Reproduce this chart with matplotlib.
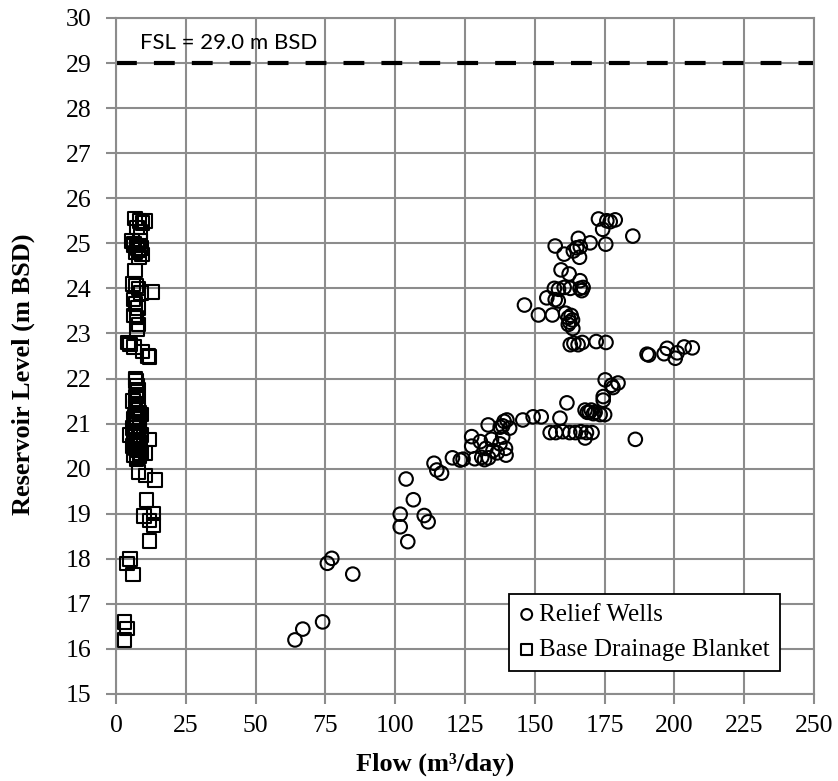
import matplotlib
matplotlib.use("Agg")
from matplotlib import pyplot as plt

# Relief wells: flow (m3/day) vs reservoir level (m BSD)
rw_flow = [64.1, 66.9, 74.0, 75.7, 77.3, 84.8,
           103.9, 106.5, 101.8, 101.8, 110.4, 111.8, 104.5,
           113.9, 114.9, 116.6, 120.5, 123.3, 124.3,
           127.4, 127.4, 128.5, 131.0, 132.0, 133.5, 130.5, 132.5,
           133.3, 137.6, 139.0, 138.5, 140.0, 141.0,
           136.5, 137.5, 138.5, 139.5, 139.7, 135.0, 134.5,
           145.7, 149.4, 152.3, 159.0,
           155.5, 157.5, 160.0, 162.5, 164.5, 166.5, 168.5, 170.5, 168.0,
           161.5, 168.8, 170.2, 171.6, 175.0, 186.0,
           172.8, 175.8, 177.0, 178.8, 174.3, 185.1,
           157.3, 165.6, 163.8, 165.0, 166.3, 169.8, 175.4,
           160.5, 166.0, 159.4, 162.3, 166.2,
           157.0, 158.5, 160.5, 162.7, 166.2, 166.8, 167.3,
           154.3, 157.3, 158.4, 146.3, 151.3, 156.3,
           161.0, 162.0, 163.0, 163.5, 162.5, 162.0, 163.6,
           162.7, 164.0, 165.5, 167.0, 172.0, 175.5,
           190.2, 190.8, 196.3, 197.4, 200.3, 201.0, 203.5, 206.4,
           175.2, 177.5, 179.8, 178.0, 174.5, 174.5,
           168.0, 169.5, 171.0, 173.4]
rw_level = [16.2, 16.44, 16.6, 17.9, 18.01, 17.66,
            19.77, 19.31, 18.99, 18.71, 18.96, 18.82, 18.38,
            20.12, 19.97, 19.90, 20.24, 20.19, 20.21,
            20.71, 20.50, 20.22, 20.25, 20.20, 20.24, 20.60, 20.45,
            20.97, 20.92, 21.05, 20.95, 21.08, 20.90,
            20.35, 20.55, 20.70, 20.45, 20.30, 20.40, 20.65,
            21.08, 21.15, 21.15, 21.12,
            20.80, 20.80, 20.82, 20.80, 20.80, 20.82, 20.80, 20.80, 20.68,
            21.46, 21.25, 21.30, 21.25, 21.20, 20.65,
            25.54, 25.50, 25.48, 25.52, 25.31, 25.16,
            24.94, 25.11, 24.83, 24.90, 24.92, 25.01, 24.98,
            24.76, 24.69, 24.41, 24.32, 24.17,
            24.0, 23.98, 24.02, 24.0, 24.0, 23.95, 24.02,
            23.79, 23.75, 23.72, 23.63, 23.41, 23.41,
            23.45, 23.35, 23.40, 23.30, 23.25, 23.2, 23.11,
            22.75, 22.78, 22.75, 22.80, 22.82, 22.80,
            22.54, 22.52, 22.55, 22.67, 22.45, 22.57, 22.70, 22.68,
            21.97, 21.85, 21.90, 21.80, 21.60, 21.52,
            21.30, 21.25, 21.22, 21.20]

# Base drainage blanket
bd_flow = [6.8, 8.5, 9.5, 10.4, 7.5, 8.8,
           5.7, 6.5, 7.5, 8.0, 9.0, 9.3, 7.0, 8.2, 6.2, 8.6, 7.8,
           6.8, 6.0, 7.2, 8.0, 12.9, 9.0,
           6.2, 7.0, 7.8, 6.5, 7.3, 8.0, 7.5,
           4.3, 5.0, 6.5, 9.5, 11.5, 12.0, 4.8,
           7.0, 7.5, 7.8, 7.2,
           6.0, 7.0, 8.0, 9.0, 6.5, 7.5, 8.5, 6.0, 7.0, 8.0, 9.0,
           6.5, 7.5, 8.5, 5.0, 12.0, 6.0, 7.0, 8.0, 9.0, 6.5, 7.5, 8.5, 10.5,
           7.2, 7.8, 7.0, 8.2, 6.8, 7.6, 8.4, 7.1, 7.9, 6.7, 8.8, 7.4, 8.1,
           8.0, 10.5, 14.0,
           11.0, 10.0, 12.0, 13.5, 13.5, 12.0,
           5.0, 4.0, 6.0,
           3.0, 4.0, 3.0]
bd_level = [25.55, 25.5, 25.45, 25.5, 25.35, 25.25,
            25.05, 25.0, 24.95, 24.85, 24.9, 24.75, 24.8, 24.7, 24.95, 25.05, 24.9,
            24.4, 24.1, 24.05, 24.0, 23.92, 23.9,
            23.75, 23.65, 23.56, 23.4, 23.35, 23.2, 23.1,
            22.8, 22.75, 22.7, 22.6, 22.5, 22.48, 22.78,
            22.0, 21.85, 21.75, 21.95,
            21.5, 21.4, 21.3, 21.2, 21.1, 21.05, 21.0, 20.9, 20.85, 20.8, 20.75,
            20.7, 20.65, 20.6, 20.75, 20.65, 20.5, 20.45, 20.4, 20.35, 20.3, 20.25, 20.28, 20.35,
            21.6, 21.45, 21.35, 21.25, 21.15, 21.1, 20.95, 20.85, 20.55, 20.5, 20.45, 20.2, 20.4,
            19.93, 19.85, 19.75,
            19.3, 18.95, 18.85, 18.75, 19.0, 18.4,
            18.0, 17.9, 17.65,
            16.6, 16.45, 16.2]

fsl = 29.0

plt.rcParams['font.family'] = 'Liberation Serif'
fig = plt.figure(figsize=(8.38, 7.81), dpi=100)
ax = fig.add_axes([0.1384, 0.1114, 0.8330, 0.8656])

ax.plot([0, 250], [fsl, fsl], color="black", lw=3, dashes=(5, 4.1), zorder=2)
ax.text(8.6, 29.22, "FSL = 29.0 m BSD", fontsize=16, family="Lato", va="bottom")

ax.scatter(rw_flow, rw_level, s=95, marker="o", facecolors="none",
           edgecolors="black", linewidths=1.5, label="Relief Wells", zorder=3)
ax.scatter(bd_flow, bd_level, s=95, marker="s", facecolors="none",
           edgecolors="black", linewidths=1.5, label="Base Drainage Blanket", zorder=3)

ax.set_xlim(0, 250)
ax.set_ylim(15, 30)
ax.set_xticks(range(0, 251, 25))
ax.set_yticks(range(15, 31, 1))
ax.grid(True, color="#8c8c8c", lw=1.5)
ax.set_axisbelow(True)
for s in ax.spines.values():
    s.set_color("#8c8c8c")
    s.set_linewidth(1.5)
ax.tick_params(colors="#8c8c8c", labelcolor="black", labelsize=18.5, length=7, width=1.5)
ax.tick_params(axis="y", pad=10.5)
ax.tick_params(axis="x", pad=8)

ax.set_xlabel("Flow (m³/day)", fontsize=19, fontweight="bold", va="center")
ax.set_ylabel("Reservoir Level (m BSD)", fontsize=19, fontweight="bold", va="center")
ax.xaxis.set_label_coords(0.4577, -0.1036)
ax.yaxis.set_label_coords(-0.1332, 0.4726)

leg = ax.legend(loc="lower right", bbox_to_anchor=(0.951, 0.034), borderaxespad=0,
                fontsize=18, fancybox=False, edgecolor="black", framealpha=1,
                handlelength=0.6, handletextpad=0.2, borderpad=0.4, labelspacing=0.5,
                markerscale=0.8)
leg.get_frame().set_linewidth(1.3)

fig.savefig("out.png", dpi=100)
